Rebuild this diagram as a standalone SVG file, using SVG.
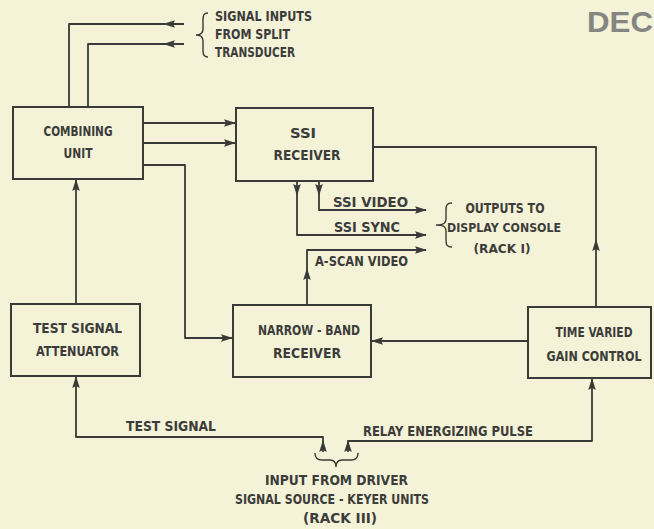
<svg xmlns="http://www.w3.org/2000/svg" xmlns:xlink="http://www.w3.org/1999/xlink" width="654" height="529" viewBox="0 0 654 529">
<style>
.bg{fill:#f4f3d8}
.box{fill:none;stroke:#3a3a38;stroke-width:2}
.ln{fill:none;stroke:#3a3a38;stroke-width:1.8;stroke-linejoin:round}
.br{fill:none;stroke:#3a3a38;stroke-width:1.4}
.t{font-family:"DejaVu Sans Condensed","DejaVu Sans",sans-serif;font-size:14px;font-weight:bold;fill:#3c3c3a}
.s{font-size:13px}
.m{text-anchor:middle}
.dec{font-family:"Liberation Sans",Arial,sans-serif;font-weight:bold;font-size:30px;fill:#858582}
.ah{fill:#3a3a38}
</style>
<defs>
<path id="ah" d="M0,0 L-12,-3.8 L-10,0 L-12,3.8 Z"/>
</defs>
<rect class="bg" x="0" y="0" width="654" height="529"/>
<text class="dec" x="587" y="32" textLength="66" lengthAdjust="spacingAndGlyphs">DEC</text>

<g id="connectors">
<path class="ln" d="M69,107 V24 H184"/>
<path class="ln" d="M88,107 V44 H184"/>
<use class="ah" xlink:href="#ah" href="#ah" transform="translate(163,24) rotate(180)"/>
<use class="ah" xlink:href="#ah" href="#ah" transform="translate(163,44) rotate(180)"/>

<path class="ln" d="M143,123 H235"/>
<use class="ah" href="#ah" transform="translate(236,123)"/>
<path class="ln" d="M143,143 H235"/>
<use class="ah" href="#ah" transform="translate(236,143)"/>

<path class="ln" d="M143,165 H185 V338 H232"/>
<use class="ah" href="#ah" transform="translate(233,338)"/>

<path class="ln" d="M76,304 V180"/>
<use class="ah" href="#ah" transform="translate(76,179) rotate(-90)"/>

<path class="ln" d="M319,181 V210 H426"/>
<use class="ah" href="#ah" transform="translate(319,196) rotate(90)"/>
<use class="ah" href="#ah" transform="translate(427,210)"/>

<path class="ln" d="M297,181 V235 H426"/>
<use class="ah" href="#ah" transform="translate(297,196) rotate(90)"/>
<use class="ah" href="#ah" transform="translate(427,235)"/>

<path class="ln" d="M307,305 V250 H426"/>
<use class="ah" href="#ah" transform="translate(307,268) rotate(-90)"/>
<use class="ah" href="#ah" transform="translate(427,250)"/>

<path class="ln" d="M596,307 V147 H373"/>
<use class="ah" href="#ah" transform="translate(596,239) rotate(-90)"/>

<path class="ln" d="M528,341 H372"/>
<use class="ah" href="#ah" transform="translate(371,341) rotate(180)"/>

<path class="ln" d="M323,452 V437 H76 V377"/>
<use class="ah" href="#ah" transform="translate(76,376) rotate(-90)"/>
<use class="ah" href="#ah" transform="translate(323,440) rotate(-90)"/>

<path class="ln" d="M348,452 V441 H592 V379"/>
<use class="ah" href="#ah" transform="translate(592,378) rotate(-90)"/>
<use class="ah" href="#ah" transform="translate(348,440) rotate(-90)"/>

<path class="br" d="M208,13 C204,13 203,15 203,20 V29 C203,33 201,35 196,35 C201,35 203,37 203,41 V51 C203,55 204,57 208,57"/>
<path class="br" d="M452,203 C447,203 446,205 446,210 V219 C446,223 444,225 436,225 C444,225 446,227 446,231 V240 C446,245 447,247 452,247"/>
<path class="br" d="M315,453 C315,458 317,460 322,460 H330 C334,460 336,462 336,467 C336,462 338,460 342,460 H351 C356,460 358,458 358,453"/>
</g>

<g id="combining-unit">
<rect class="box" x="13" y="107" width="130" height="72"/>
<text class="t m" x="78" y="136" textLength="69" lengthAdjust="spacingAndGlyphs">COMBINING</text>
<text class="t m" x="78" y="158" textLength="29" lengthAdjust="spacingAndGlyphs">UNIT</text>
</g>

<g id="ssi-receiver">
<rect class="box" x="236" y="108" width="137" height="73"/>
<text class="t m" x="303" y="138" textLength="26" lengthAdjust="spacingAndGlyphs">SSI</text>
<text class="t m" x="307" y="160" textLength="67" lengthAdjust="spacingAndGlyphs">RECEIVER</text>
</g>

<g id="test-signal-attenuator">
<rect class="box" x="11" y="304" width="129" height="72"/>
<text class="t m" x="77.5" y="333" textLength="89" lengthAdjust="spacingAndGlyphs">TEST SIGNAL</text>
<text class="t m" x="77.5" y="356" textLength="83" lengthAdjust="spacingAndGlyphs">ATTENUATOR</text>
</g>

<g id="narrow-band-receiver">
<rect class="box" x="233" y="305" width="138" height="72"/>
<text class="t m" x="309" y="335" textLength="102" lengthAdjust="spacingAndGlyphs">NARROW - BAND</text>
<text class="t m" x="307" y="358" textLength="68" lengthAdjust="spacingAndGlyphs">RECEIVER</text>
</g>

<g id="time-varied-gain-control">
<rect class="box" x="528" y="307" width="123" height="71"/>
<text class="t m" x="594" y="337" textLength="77" lengthAdjust="spacingAndGlyphs">TIME VARIED</text>
<text class="t m" x="594" y="361" textLength="95" lengthAdjust="spacingAndGlyphs">GAIN CONTROL</text>
</g>

<g id="labels">
<text class="t" x="215" y="21" textLength="97" lengthAdjust="spacingAndGlyphs">SIGNAL INPUTS</text>
<text class="t" x="215" y="39" textLength="75" lengthAdjust="spacingAndGlyphs">FROM SPLIT</text>
<text class="t" x="215" y="57" textLength="80" lengthAdjust="spacingAndGlyphs">TRANSDUCER</text>

<text class="t" x="333" y="207" textLength="75" lengthAdjust="spacingAndGlyphs">SSI VIDEO</text>
<text class="t" x="334" y="232" textLength="66" lengthAdjust="spacingAndGlyphs">SSI SYNC</text>
<text class="t" x="315" y="266" textLength="93" lengthAdjust="spacingAndGlyphs">A-SCAN VIDEO</text>

<text class="t m" x="505" y="213" textLength="79" lengthAdjust="spacingAndGlyphs">OUTPUTS TO</text>
<text class="t s m" x="504" y="232" textLength="114" lengthAdjust="spacingAndGlyphs">DISPLAY CONSOLE</text>
<text class="t s m" x="502" y="253" textLength="57" lengthAdjust="spacingAndGlyphs">(RACK I)</text>

<text class="t" x="126" y="431" textLength="90" lengthAdjust="spacingAndGlyphs">TEST SIGNAL</text>
<text class="t" x="363" y="436" textLength="170" lengthAdjust="spacingAndGlyphs">RELAY ENERGIZING PULSE</text>

<text class="t m" x="336.5" y="485" textLength="143" lengthAdjust="spacingAndGlyphs">INPUT FROM DRIVER</text>
<text class="t m" x="332" y="504" textLength="194" lengthAdjust="spacingAndGlyphs">SIGNAL SOURCE - KEYER UNITS</text>
<text class="t m" x="340" y="523" textLength="74" lengthAdjust="spacingAndGlyphs">(RACK III)</text>
</g>
</svg>
